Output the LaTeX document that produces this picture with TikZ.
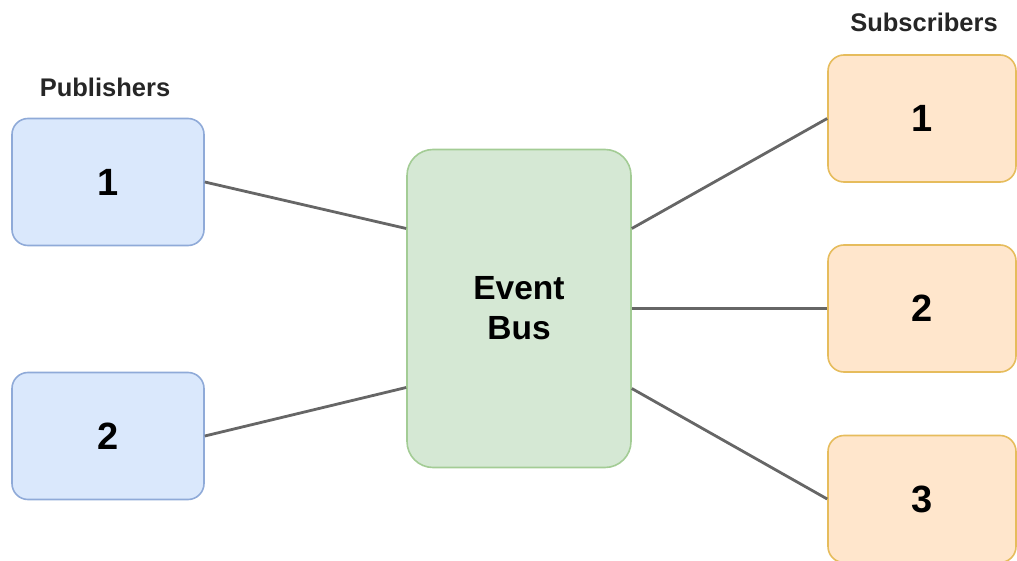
\documentclass[tikz,border=0pt]{standalone}
\usepackage{fontspec}
\setmainfont{Liberation Sans}
\definecolor{pubfill}{HTML}{DAE8FC}
\definecolor{publine}{HTML}{8FAAD8}
\definecolor{busfill}{HTML}{D5E8D4}
\definecolor{busline}{HTML}{A3CC95}
\definecolor{subfill}{HTML}{FFE6CC}
\definecolor{subline}{HTML}{E6BC5C}
\definecolor{wire}{HTML}{666666}
\tikzset{
  box/.style={draw, line width=1.6pt, rounded corners=16pt, minimum width=192pt,
    minimum height=127pt, inner sep=0pt, font=\fontsize{38}{40}\selectfont\bfseries},
  pub/.style={box, fill=pubfill, draw=publine},
  sub/.style={box, fill=subfill, draw=subline, minimum width=188pt},
  bus/.style={draw=busline, fill=busfill, line width=1.6pt, rounded corners=26pt,
    minimum width=224pt, minimum height=318pt, inner sep=0pt, align=center,
    font=\fontsize{33.5}{40}\selectfont\bfseries},
  heading/.style={font=\fontsize{25.5}{28}\selectfont\bfseries, text=black!85},
  link/.style={draw=wire, line width=2.8pt}
}
\begin{document}
\begin{tikzpicture}[x=1pt, y=-1pt]
  \useasboundingbox (0,0) rectangle (1017,561);
  \node[heading] (pubhead) at (105,87) {Publishers};
  \node[heading] (subhead) at (924,22) {Subscribers};
  \node[pub] (p1) at (108,182) {1};
  \node[pub] (p2) at (108,436) {2};
  \node[bus] (bus) at (519,308.5) {Event\\Bus};
  \node[sub] (s1) at (922,118.5) {1};
  \node[sub] (s2) at (922,308.5) {2};
  \node[sub] (s3) at (922,499) {3};
  \draw[link] (p1.east) -- ([yshift=80pt]bus.west);
  \draw[link] (p2.east) -- ([yshift=-79pt]bus.west);
  \draw[link] ([yshift=80pt]bus.east) -- (s1.west);
  \draw[link] (bus.east) -- (s2.west);
  \draw[link] ([yshift=-80pt]bus.east) -- (s3.west);
\end{tikzpicture}
\end{document}
